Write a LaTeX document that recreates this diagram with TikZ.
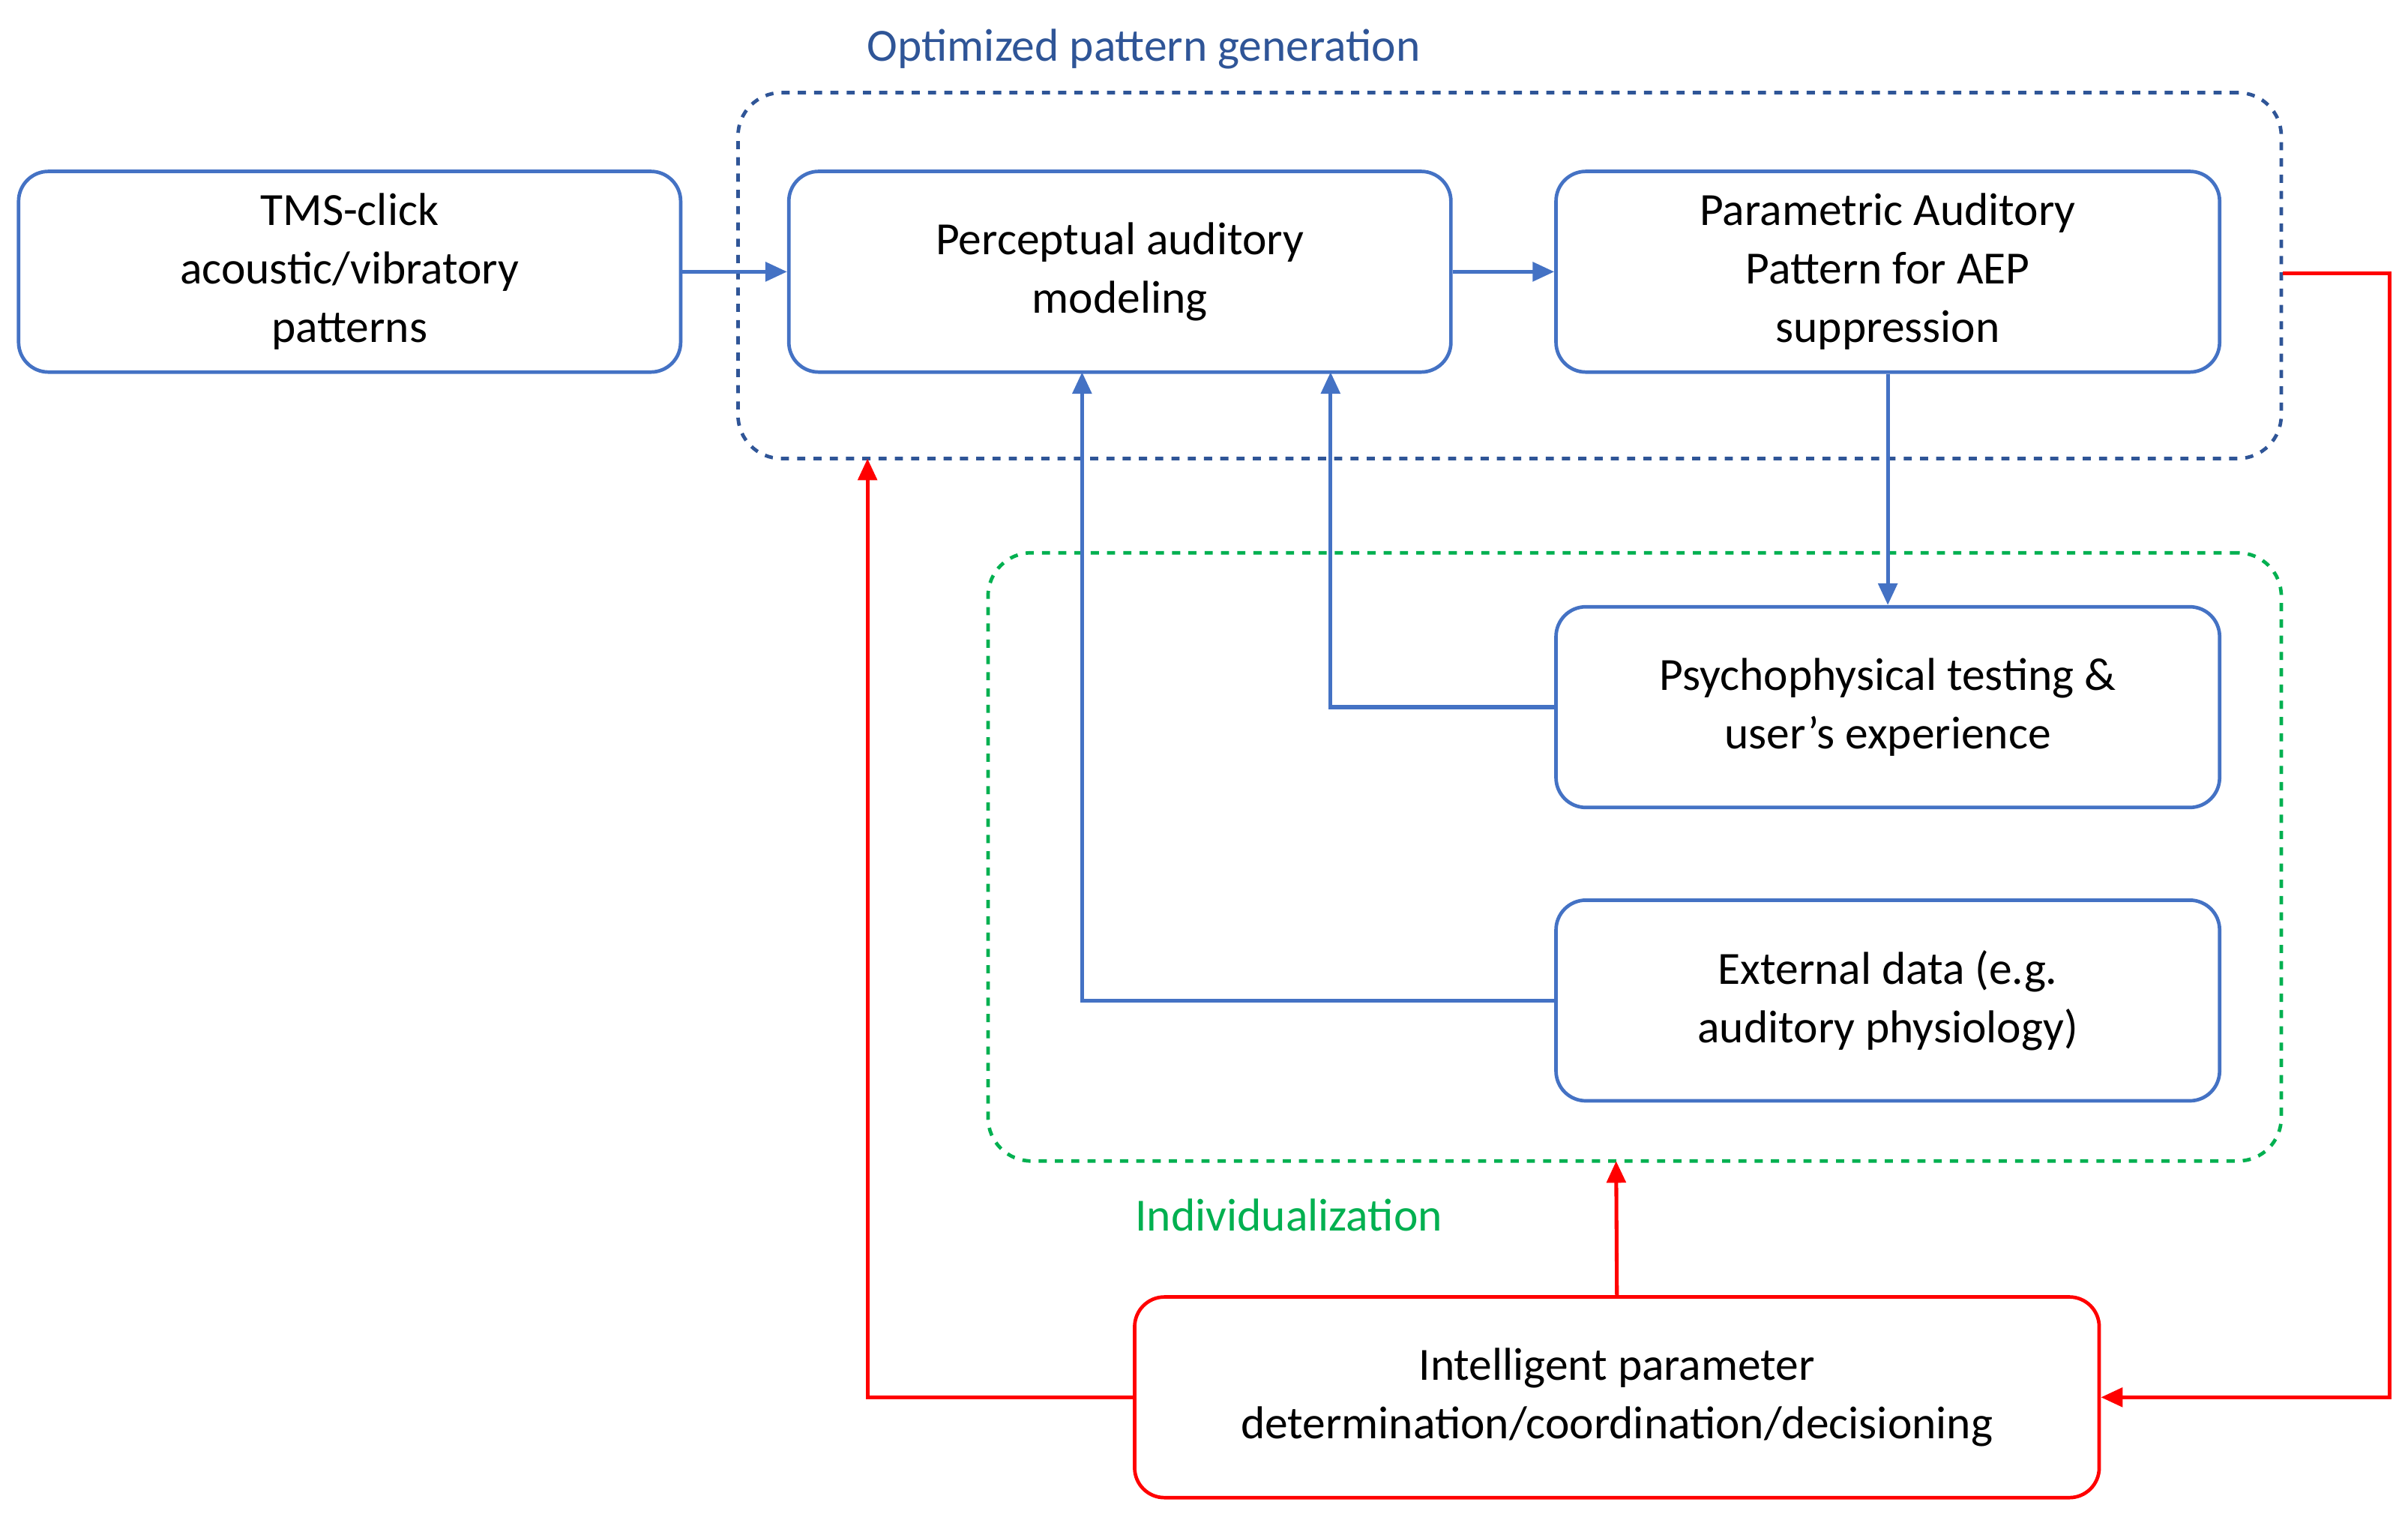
\documentclass[tikz,border=0pt]{standalone}
\usepackage{fontspec}
\setmainfont{Carlito}
\usetikzlibrary{arrows.meta}
\definecolor{bbox}{HTML}{4472C4}
\definecolor{dblue}{HTML}{2F5597}
\definecolor{gr}{HTML}{00B050}
\definecolor{rd}{HTML}{FF0000}
\begin{document}
\begin{tikzpicture}[x=0.02cm,y=-0.02cm,
  box/.style={draw=bbox,line width=1.3pt,rounded corners=11pt,align=center,font=\fontsize{17}{21.5}\selectfont,inner sep=0pt},
  rbox/.style={box,draw=rd},
  arr/.style={-{Triangle[length=8pt,width=7pt]},line width=1.4pt,draw=bbox},
  rarr/.style={arr,draw=rd}]
\useasboundingbox (0,0) rectangle (1560,986);
\node[draw=dblue,dashed,line width=1.3pt,rounded corners=16pt,minimum width=20cm,minimum height=4.74cm] (opt) at (978,178.5) {};
\node[draw=gr,dashed,line width=1.3pt,rounded corners=16pt,minimum width=16.76cm,minimum height=7.88cm] (ind) at (1059,555) {};
\node[text=dblue,font=\fontsize{17}{20}\selectfont] (optl) at (741,32) {Optimized pattern generation};
\node[text=gr,font=\fontsize{17}{20}\selectfont] (indl) at (835,787) {Individualization};
\node[box,minimum width=8.58cm,minimum height=2.6cm] (tms) at (226.5,176) {TMS-click\\acoustic/vibratory\\patterns};
\node[box,minimum width=8.58cm,minimum height=2.6cm] (per) at (725.5,176) {Perceptual auditory\\modeling};
\node[box,minimum width=8.6cm,minimum height=2.6cm] (par) at (1223,176) {Parametric Auditory\\Pattern for AEP\\suppression};
\node[box,minimum width=8.6cm,minimum height=2.6cm] (psy) at (1223,458) {Psychophysical testing \&\\user’s experience};
\node[box,minimum width=8.6cm,minimum height=2.6cm] (ext) at (1223,648) {External data (e.g.\\auditory physiology)};
\node[rbox,minimum width=12.5cm,minimum height=2.6cm] (int) at (1047.5,905) {Intelligent parameter\\determination/coordination/decisioning};
\draw[arr] (tms.east) -- (per.west);
\draw[arr] (per.east) -- (par.west);
\draw[arr] (par.south) -- (psy.north);
\draw[arr] (psy.west) -- (862,458) -- (862,241);
\draw[arr] (ext.west) -- (701,648) -- (701,241);
\draw[rarr] (opt.east |- 0,177) -- (1548,177) -- (1548,905) -- (int.east);
\draw[rarr] (int.west) -- (562,905) -- (562,297);
\draw[rarr] (int.north) -- (1047,752);
\end{tikzpicture}
\end{document}
